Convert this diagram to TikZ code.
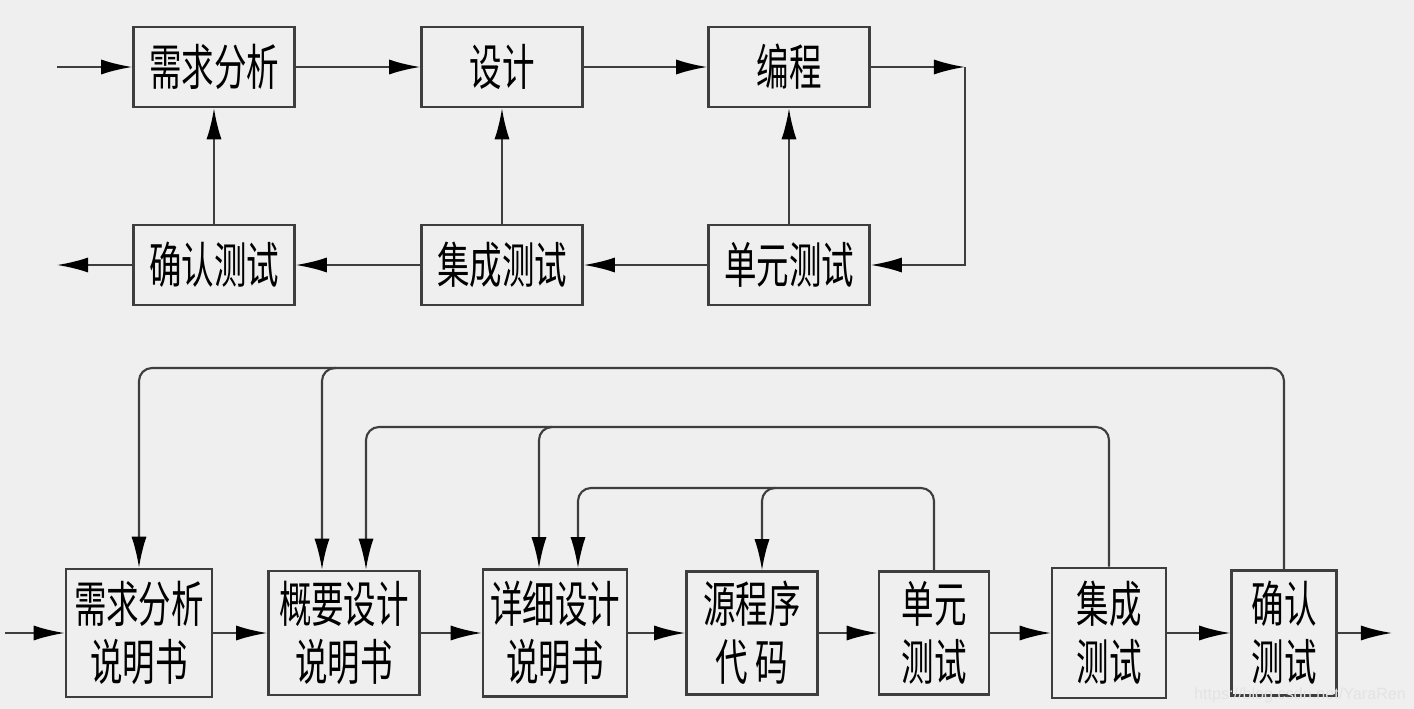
\documentclass[tikz,border=0pt]{standalone}
\usepackage{fontspec}
\usetikzlibrary{arrows.meta}
\newfontfamily\cjk[FakeStretch=0.66]{Noto Sans CJK SC}
\newfontfamily\wmfont{Liberation Sans}
\definecolor{bg}{RGB}{239,239,239}
\definecolor{ln}{RGB}{62,62,62}

\begin{document}
\begin{tikzpicture}[x=0.01cm,y=-0.01cm,
  >={Latex[length=3.1mm,width=1.5mm,color=black]},
  box/.style={draw=ln,line width=0.7pt,inner sep=0pt,align=center,
    font=\cjk\fontsize{14}{16.5}\selectfont},
  arr/.style={draw=ln,line width=0.6pt,->},
  fb/.style={arr,rounded corners=0.13cm}]
\fill[bg] (0,0) rectangle (1414,709);
\useasboundingbox (0,0) rectangle (1414,709);

% top: the loop
\node[box,minimum width=1.61cm,minimum height=0.8cm] (xq) at (214,67) {需求分析};
\node[box,minimum width=1.61cm,minimum height=0.8cm] (sj) at (502,67) {设计};
\node[box,minimum width=1.61cm,minimum height=0.8cm] (bc) at (789,67) {编程};
\node[box,minimum width=1.61cm,minimum height=0.8cm] (qr) at (214,265) {确认测试};
\node[box,minimum width=1.61cm,minimum height=0.8cm] (jc) at (502,265) {集成测试};
\node[box,minimum width=1.61cm,minimum height=0.8cm] (dy) at (789,265) {单元测试};

\coordinate (in1) at (57,67);
\coordinate (out1) at (57,265);
\coordinate (c1) at (965,67);

\draw[arr] (in1) -- (xq);
\draw[arr] (xq) -- (sj);
\draw[arr] (sj) -- (bc);
\draw[arr] (bc) -- (c1);
\draw[arr] (c1) |- (dy);
\draw[arr] (dy) -- (jc);
\draw[arr] (jc) -- (qr);
\draw[arr] (qr) -- (out1);
\draw[arr] (qr) -- (xq);
\draw[arr] (jc) -- (sj);
\draw[arr] (dy) -- (bc);

% bottom: documents and tests
\node[box,minimum width=1.46cm,minimum height=1.28cm] (b1) at (139,633) {需求分析\\说明书};
\node[box,minimum width=1.51cm,minimum height=1.24cm] (b2) at (344,633) {概要设计\\说明书};
\node[box,minimum width=1.44cm,minimum height=1.27cm] (b3) at (555,633) {详细设计\\说明书};
\node[box,minimum width=1.31cm,minimum height=1.23cm] (b4) at (752,633) {源程序\\代\ 码};
\node[box,minimum width=1.10cm,minimum height=1.23cm] (b5) at (934,633) {单元\\测试};
\node[box,minimum width=1.14cm,minimum height=1.30cm] (b6) at (1109,633) {集成\\测试};
\node[box,minimum width=1.05cm,minimum height=1.25cm] (b7) at (1284,633) {确认\\测试};

\coordinate (in2) at (5,633);
\coordinate (out2) at (1392,633);
\coordinate (l1) at (0,368);
\coordinate (l2) at (0,427);
\coordinate (l3) at (0,488);
\coordinate (b2l) at ([xshift=-0.22cm]b2.north);
\coordinate (b2r) at ([xshift=0.22cm]b2.north);
\coordinate (b3l) at ([xshift=-0.16cm]b3.north);
\coordinate (b3r) at ([xshift=0.23cm]b3.north);
\coordinate (b4t) at ([xshift=0.10cm]b4.north);

\draw[arr] (in2) -- (b1);
\draw[arr] (b1) -- (b2);
\draw[arr] (b2) -- (b3);
\draw[arr] (b3) -- (b4);
\draw[arr] (b4) -- (b5);
\draw[arr] (b5) -- (b6);
\draw[arr] (b6) -- (b7);
\draw[arr] (b7) -- (out2);

\draw[fb] (b7.north) |- (b1.north |- l1) -- (b1.north);
\draw[fb] (b2l |- l1) ++(14,0) -| (b2l);
\draw[fb] (b6.north) |- (b2r |- l2) -- (b2r);
\draw[fb] (b3l |- l2) ++(12,0) -| (b3l);
\draw[fb] (b5.north) |- (b3r |- l3) -- (b3r);
\draw[fb] (b4t |- l3) ++(12,0) -| (b4t);

\node[font=\wmfont\fontsize{4.6}{5}\selectfont,text=white!78!gray,inner sep=0pt] (wm) at (1300,695) {https://blog.csdn.net/YaraRen};
\end{tikzpicture}
\end{document}
